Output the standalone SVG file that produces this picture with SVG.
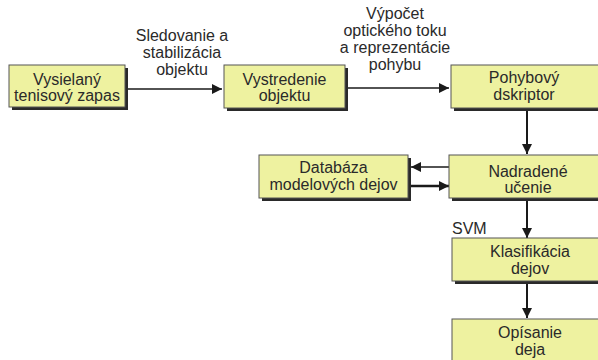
<svg xmlns="http://www.w3.org/2000/svg" width="598" height="360" viewBox="0 0 598 360">
<defs>
<marker id="ah" markerUnits="userSpaceOnUse" markerWidth="10" markerHeight="10" viewBox="0 0 10 10" refX="10" refY="5" orient="auto">
<path d="M0,0 L10,5 L0,10 Z" fill="#1a1a1a"/>
</marker>
</defs>
<style>
.sh{fill:#2a2a2a}
.bx{fill:#EEF2A0;stroke:#555;stroke-width:1}
text{font-family:"Liberation Sans",Arial,sans-serif;font-size:16px;fill:#2a2a2a}
.c{text-anchor:middle}
.ln{stroke:#1a1a1a;fill:none}
</style>
<rect width="598" height="360" fill="#fff"/>
<g id="connectors">
<line class="ln" x1="128" y1="89" x2="222" y2="89" stroke-width="1.3" marker-end="url(#ah)"/>
<line class="ln" x1="348" y1="88" x2="449" y2="88" stroke-width="1.3" marker-end="url(#ah)"/>
<line class="ln" x1="527" y1="111" x2="527" y2="154" stroke-width="2" marker-end="url(#ah)"/>
<line class="ln" x1="449" y1="167" x2="411" y2="167" stroke-width="1.3" marker-end="url(#ah)"/>
<line class="ln" x1="411" y1="186" x2="449" y2="186" stroke-width="2.5" marker-end="url(#ah)"/>
<line class="ln" x1="527" y1="201" x2="527" y2="238" stroke-width="2" marker-end="url(#ah)"/>
<line class="ln" x1="527" y1="284" x2="527" y2="318" stroke-width="2" marker-end="url(#ah)"/>
<text class="c" x="182" y="41">Sledovanie a</text>
<text class="c" x="182" y="58">stabilizácia</text>
<text class="c" x="182" y="75">objektu</text>
<text class="c" x="395" y="19">Výpočet</text>
<text class="c" x="395" y="36">optického toku</text>
<text class="c" x="395" y="53">a reprezentácie</text>
<text class="c" x="395" y="70">pohybu</text>
<text x="452" y="234">SVM</text>
</g>
<g id="n1">
<rect class="sh" x="12" y="68" width="116" height="42"/>
<rect class="bx" x="9" y="65" width="116" height="42"/>
<text class="c" x="67" y="85">Vysielaný</text>
<text class="c" x="67" y="101">tenisový zapas</text>
</g>
<g id="n2">
<rect class="sh" x="227" y="68" width="121" height="43"/>
<rect class="bx" x="224" y="65" width="121" height="43"/>
<text class="c" x="284.5" y="85">Vystredenie</text>
<text class="c" x="284.5" y="101">objektu</text>
</g>
<g id="n3">
<rect class="sh" x="454" y="68" width="152" height="43"/>
<rect class="bx" x="451" y="65" width="152" height="43"/>
<text class="c" x="524" y="83">Pohybový</text>
<text class="c" x="524" y="100">dskriptor</text>
</g>
<g id="n4">
<rect class="sh" x="262" y="158" width="149" height="43"/>
<rect class="bx" x="259" y="155" width="149" height="43"/>
<text class="c" x="333.5" y="173">Databáza</text>
<text class="c" x="333.5" y="190">modelových dejov</text>
</g>
<g id="n5">
<rect class="sh" x="452" y="158" width="154" height="43"/>
<rect class="bx" x="449" y="155" width="154" height="43"/>
<text class="c" x="528" y="177">Nadradené</text>
<text class="c" x="528" y="193">učenie</text>
</g>
<g id="n6">
<rect class="sh" x="455" y="241" width="152" height="43"/>
<rect class="bx" x="452" y="238" width="152" height="43"/>
<text class="c" x="530" y="257">Klasifikácia</text>
<text class="c" x="530" y="274">dejov</text>
</g>
<g id="n7">
<rect class="sh" x="455" y="322" width="152" height="43"/>
<rect class="bx" x="452" y="319" width="152" height="43"/>
<text class="c" x="530" y="338">Opísanie</text>
<text class="c" x="530" y="355">deja</text>
</g>
</svg>
